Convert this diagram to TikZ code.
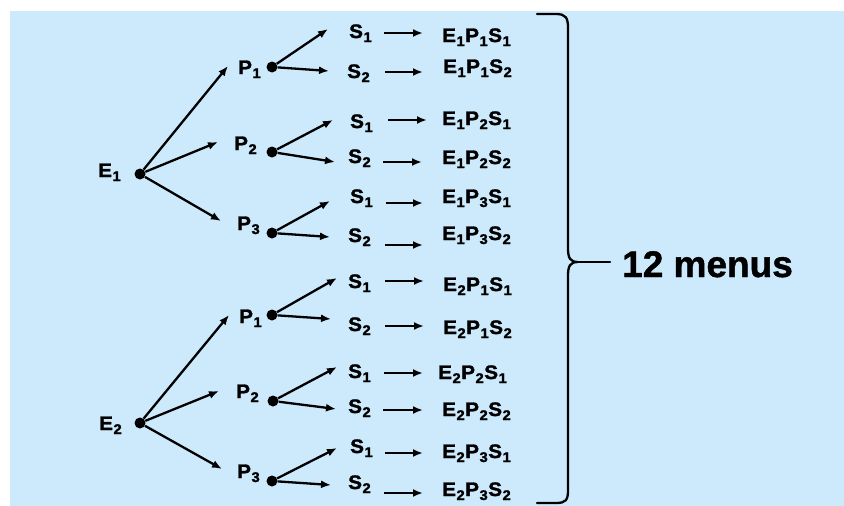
\documentclass[tikz,border=0pt]{standalone}
\usepackage{fontspec}
\setmainfont{Liberation Sans}
\newfontfamily\labfont[FakeStretch=1.06, BoldFeatures={FakeBold=1.6}]{Liberation Sans}
\newfontfamily\bigfont[BoldFeatures={FakeBold=1.2}]{Liberation Sans}
\usetikzlibrary{arrows.meta}
\definecolor{bgblue}{RGB}{204,234,251}

% letter with a lowered index
\newcommand\ix[1]{\kern0.5pt\raisebox{-4pt}{\fontsize{14}{14}\selectfont #1}\kern0.5pt}

\tikzset{
  lab/.style={inner sep=0pt, anchor=base west, text=black,
              font=\labfont\bfseries\fontsize{19.5}{19.5}\selectfont},
  plab/.style={lab},
  dot/.style={circle, fill=black, inner sep=0pt, minimum size=11pt},
  arr/.style={-{Latex[length=10pt,width=8pt]}, line width=2.3pt},
  brace/.style={line width=2.3pt, line cap=round, line join=round}
}

\begin{document}
\begin{tikzpicture}[x=1pt,y=-1pt]
\useasboundingbox (0,0) rectangle (844,506);
\fill[white] (0,0) rectangle (844,506);
\fill[bgblue] (10,11) rectangle (844,506);

% roots
\node[dot] (e1) at (140,174) {};
\node[dot] (e2) at (140,423) {};
\node[plab] (e1l) at (98,177) {E\ix1};
\node[plab] (e2l) at (99,430) {E\ix2};

% second level: dots, labels, arrow tips
\foreach \n/\dx/\dy/\lx/\ly/\k/\tx/\ty in {
  p11/272/67/238/74/1/228/66,
  p12/272/152/234/150/2/218/142,
  p13/272/233/237/230/3/221/221,
  p21/272/315/239/323/1/229/315,
  p22/273/401/236/398/2/219/391,
  p23/272/481/237/478/3/222/469}{
  \node[dot] (\n) at (\dx,\dy) {};
  \node[plab] (\n l) at (\lx,\ly) {P\ix{\k}};
  \coordinate (\n t) at (\tx,\ty);
}
\foreach \p in {p11,p12,p13}{\draw[arr] (e1) -- (\p t);}
\foreach \p in {p21,p22,p23}{\draw[arr] (e2) -- (\p t);}

% third level arrows from each P dot
\foreach \n/\ux/\uy/\wx/\wy in {
  p11/328/29/329/71,
  p12/333/120/335/162,
  p13/330/201/330/237,
  p21/337/278/331/319,
  p22/337/367/336/409,
  p23/337/448/331/485}{
  \coordinate (\n u) at (\ux,\uy);
  \coordinate (\n w) at (\wx,\wy);
  \draw[arr] (\n) -- (\n u);
  \draw[arr] (\n) -- (\n w);
}

% S labels, outcome labels and the arrows between them
\foreach \i/\sx/\sy/\ss/\mx/\my/\me/\mp/\ax/\bx/\ay in {
  1/349/38/1/442/42/1/1/384/423/33,
  2/347/78/2/443/73/1/1/385/423/72,
  3/350/128/1/442/125/1/2/388/427/120,
  4/348/163/2/442/164/1/2/383/422/162,
  5/350/203/1/442/203/1/3/386/423/203,
  6/348/242/2/442/240/1/3/385/423/245,
  7/348/288/1/443/291/2/1/385/424/281,
  8/348/331/2/443/334/2/1/385/424/326,
  9/348/378/1/438/379/2/2/384/423/373,
  10/348/413/2/442/416/2/2/383/423/410,
  11/350/453/1/442/458/2/3/385/423/453,
  12/348/489/2/442/496/2/3/384/423/493}{
  \node[lab] (s\i) at (\sx,\sy) {S\ix{\ss}};
  \node[lab] (m\i) at (\mx,\my) {E\ix{\me}P\ix{\mp}S\ix{\ss}};
  \coordinate (a\i) at (\ax,\ay);
  \coordinate (b\i) at (\bx,\ay);
  \draw[arr] (a\i) -- (b\i);
}

% brace gathering all outcomes
\coordinate (tip) at (578,262);
\draw[brace] (537,14) -- (556,14)
  .. controls (566,14) and (568,18) .. (568,28) -- (568,248)
  .. controls (568,258) and (570,262) .. (tip)
  .. controls (570,262) and (568,266) .. (568,276) -- (568,490)
  .. controls (568,500) and (566,503) .. (556,503) -- (537,503);
\node[inner sep=0pt, anchor=base west, font=\bigfont\bfseries\fontsize{37}{37}\selectfont]
  (menus) at (622,277) {12 menus};
\draw[brace] (tip) -- ([xshift=-12pt]menus.west |- tip);
\end{tikzpicture}
\end{document}
